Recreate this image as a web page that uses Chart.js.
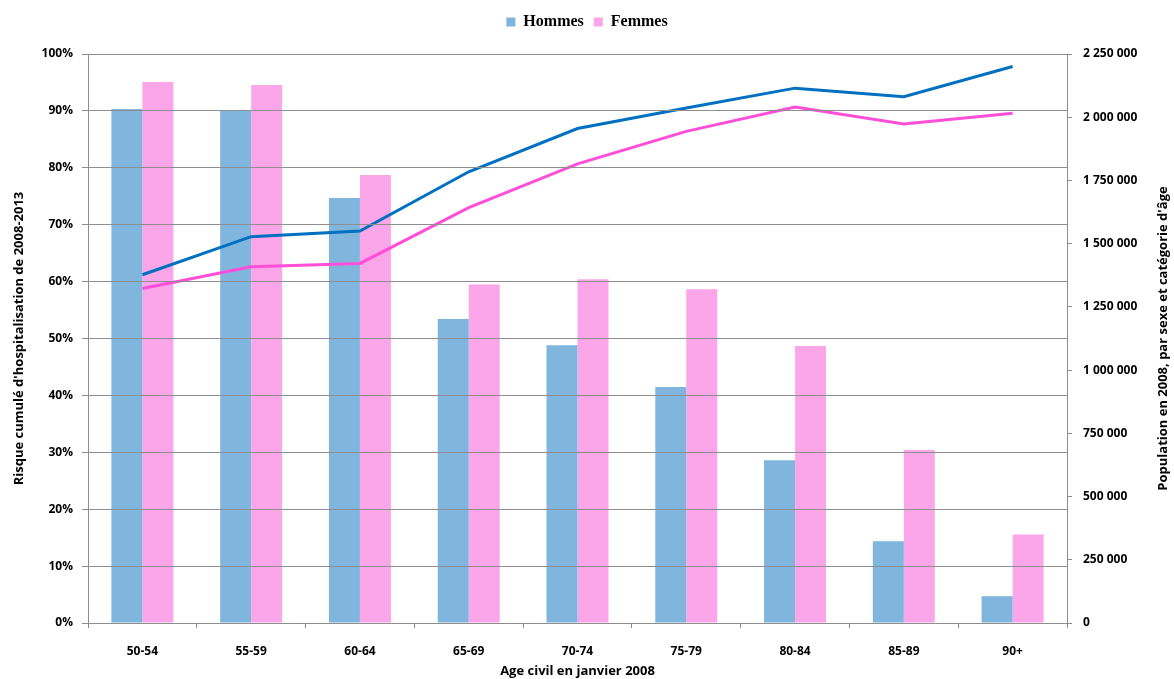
<!DOCTYPE html>
<html>
<head>
<meta charset="utf-8">
<script src="https://cdn.jsdelivr.net/npm/chart.js@4/dist/chart.umd.min.js"></script>
<style>
  html, body { margin: 0; padding: 0; background: #fff; }
  #wrap { width: 1174px; height: 679px; }
</style>
</head>
<body>
<div id="wrap"><canvas id="myChart"></canvas></div>
<script>
const ageGroups = ["50-54", "55-59", "60-64", "65-69", "70-74", "75-79", "80-84", "85-89", "90+"];

// population 2008 (right axis)
const popHommes = [2033000, 2026000, 1681000, 1202000, 1098000, 933000, 644000, 323000, 106000];
const popFemmes = [2139000, 2127000, 1772000, 1339000, 1359000, 1320000, 1095000, 684000, 350000];

// risque cumulé en % (left axis)
const risqueHommes = [61.2, 67.9, 68.9, 79.3, 86.9, 90.5, 94.0, 92.5, 97.8];
const risqueFemmes = [58.8, 62.6, 63.2, 73.0, 80.7, 86.4, 90.7, 87.7, 89.6];

const tickFont = { family: "Open Sans", size: 12, weight: "bold" };
const titleFont = { family: "Open Sans", size: 13, weight: "bold" };

function spaced(v) {
    return v.toString().replace(/\B(?=(\d{3})+(?!\d))/g, " ");
}

// make room below the legend
const legendGap = {
    id: "legendGap",
    beforeInit(chart) {
        const fit = chart.legend.fit;
        chart.legend.fit = function () {
            fit.bind(chart.legend)();
            this.height += 14;
        };
    }
};

// right axis title reads bottom to top, like the left one
const rightTitle = {
    id: "rightTitle",
    afterDraw(chart) {
        const ctx = chart.ctx;
        const area = chart.chartArea;
        ctx.save();
        ctx.translate(1163, (area.top + area.bottom) / 2);
        ctx.rotate(-Math.PI / 2);
        ctx.font = "bold 13px 'Open Sans'";
        ctx.fillStyle = "#000";
        ctx.textAlign = "center";
        ctx.textBaseline = "middle";
        ctx.fillText("Population en 2008, par sexe et catégorie d'âge", 0, 0);
        ctx.restore();
    }
};

new Chart(document.getElementById("myChart"), {
    data: {
        labels: ageGroups,
        datasets: [
            {
                type: "bar",
                label: "Hommes",
                data: popHommes,
                backgroundColor: "#80b6de",
                yAxisID: "y1",
                order: 1
            },
            {
                type: "bar",
                label: "Femmes",
                data: popFemmes,
                backgroundColor: "#fca6ea",
                yAxisID: "y1",
                order: 1
            },
            {
                type: "line",
                label: "Risque Hommes",
                data: risqueHommes,
                borderColor: "#0070c0",
                borderWidth: 3,
                pointRadius: 0,
                tension: 0,
                yAxisID: "y",
                order: 0
            },
            {
                type: "line",
                label: "Risque Femmes",
                data: risqueFemmes,
                borderColor: "#ff4fd8",
                borderWidth: 3,
                pointRadius: 0,
                tension: 0,
                yAxisID: "y",
                order: 0
            }
        ]
    },
    options: {
        responsive: true,
        maintainAspectRatio: false,
        animation: false,
        layout: { padding: { top: 4, left: 0, right: 0, bottom: 0 } },
        datasets: {
            bar: { categoryPercentage: 0.57, barPercentage: 1 }
        },
        plugins: {
            legend: {
                position: "top",
                labels: {
                    boxWidth: 9,
                    boxHeight: 9,
                    padding: 10,
                    color: "#000",
                    font: { family: "Liberation Serif", size: 16, weight: "bold" },
                    filter: (item) => item.datasetIndex < 2
                }
            },
            tooltip: { enabled: false }
        },
        scales: {
            x: {
                afterFit: (s) => { s.height = 56; },
                grid: {
                    offset: true,
                    drawOnChartArea: false,
                    tickLength: 5,
                    color: "#8e8e8e"
                },
                border: { color: "#8e8e8e" },
                ticks: { color: "#000", font: tickFont, padding: 16, maxRotation: 0 },
                title: {
                    display: true,
                    text: "Age civil en janvier 2008",
                    color: "#000",
                    font: titleFont,
                    padding: { top: 0, bottom: 0 }
                }
            },
            y: {
                position: "left",
                min: 0,
                max: 100,
                afterFit: (s) => { s.width = 88; },
                grid: { color: "#8e8e8e", tickLength: 6, z: 1 },
                border: { color: "#8e8e8e", z: 1 },
                ticks: {
                    stepSize: 10,
                    color: "#000",
                    font: tickFont,
                    padding: 9,
                    callback: (v) => v + "%"
                },
                title: {
                    display: true,
                    text: "Risque cumulé d'hospitalisation de 2008-2013",
                    color: "#000",
                    font: titleFont,
                    padding: { top: 11, bottom: 0 }
                }
            },
            y1: {
                position: "right",
                min: 0,
                max: 2250000,
                afterFit: (s) => { s.width = 107; },
                grid: { drawOnChartArea: false, tickLength: 5, color: "#8e8e8e" },
                border: { color: "#8e8e8e" },
                ticks: {
                    stepSize: 250000,
                    color: "#000",
                    font: tickFont,
                    padding: 11,
                    callback: (v) => spaced(v)
                }
            }
        }
    },
    plugins: [legendGap, rightTitle]
});
</script>
</body>
</html>
